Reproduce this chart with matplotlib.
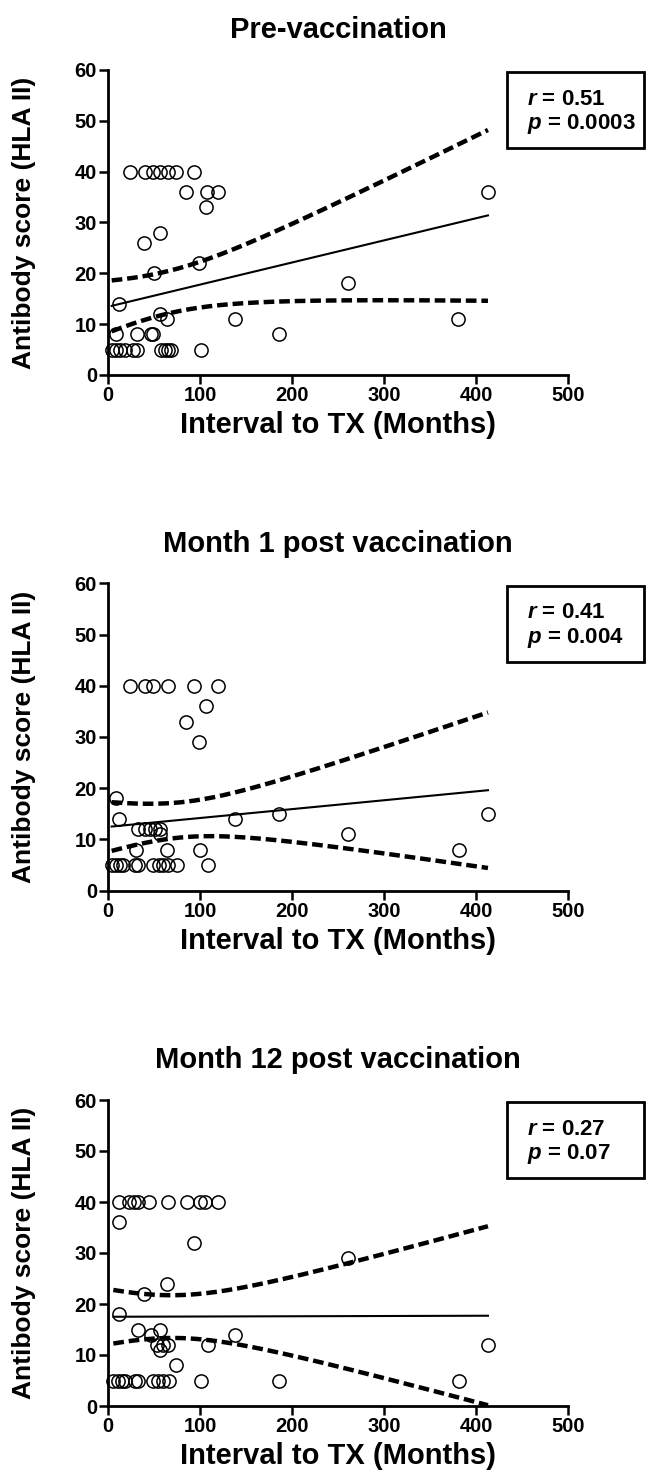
#!/usr/bin/env python3
"""
Antibody score (HLA II) vs interval to transplant, three time points.
Open circles = patients, solid = linear fit, dashed = 95% CI of the fit.
"""
import matplotlib
matplotlib.use("Agg")
import matplotlib.pyplot as plt
import numpy as np

plt.rcParams["font.family"] = ["Liberation Sans", "DejaVu Sans"]
plt.rcParams["font.weight"] = "bold"
plt.rcParams["mathtext.fontset"] = "custom"
plt.rcParams["mathtext.it"] = "Liberation Sans:italic:bold"
plt.rcParams["mathtext.rm"] = "Liberation Sans:bold"

# ---- data (months, score) ----
pre_x = [24, 40, 49, 56, 65.5, 74, 94,
         85, 108, 120, 106, 56.5, 39.5, 99, 50.5, 260.5, 12.3, 56.5,
         64, 138, 380, 8.7, 31, 46.4, 49.3, 186, 413,
         4, 8.7, 13, 18.5, 27.5, 32, 57.6, 62, 65.5, 68.5, 101]
pre_y = [40, 40, 40, 40, 40, 40, 40,
         36, 36, 36, 33, 28, 26, 22, 20, 18, 14, 12,
         11, 11, 11, 8, 8, 8, 8, 8, 36,
         5, 5, 5, 5, 5, 5, 5, 5, 5, 5, 5]

m1_x = [24, 40, 49.3, 65.6, 94, 120,
        106, 85, 99, 8.7, 12.3, 138, 186, 413, 260.5,
        381, 30, 64, 100, 33, 40, 45.7, 51, 56.5, 56.5,
        4, 8.7, 13, 16.6, 29.3, 32.2, 49.3, 55.8, 60, 65, 74.6, 108.3]
m1_y = [40, 40, 40, 40, 40, 40,
        36, 33, 29, 18, 14, 14, 15, 15, 11,
        8, 8, 8, 8, 12, 12, 12, 12, 12, 11,
        5, 5, 5, 5, 5, 5, 5, 5, 5, 5, 5, 5]

m12_x = [12, 22.8, 28, 33, 44.6, 65.6, 85.5, 100, 105.4, 120,
         12, 94, 260.5, 64, 39.5, 12.3,
         33, 46.7, 56.5, 53, 59.4, 65.6, 56.5, 74, 108.3, 138, 413,
         381, 5.8, 10.5, 14.9, 18.5, 29.3, 32.2, 48.6, 54.7, 60, 66.6, 100.8, 186]
m12_y = [40, 40, 40, 40, 40, 40, 40, 40, 40, 40,
         36, 32, 29, 24, 22, 18,
         15, 14, 15, 12, 12, 12, 11, 8, 12, 14, 12,
         5, 5, 5, 5, 5, 5, 5, 5, 5, 5, 5, 5, 5]

titles = ["Pre-vaccination", "Month 1 post vaccination", "Month 12 post vaccination"]
r_values = ["0.51", "0.41", "0.27"]
p_values = ["0.0003", "0.004", "0.07"]

# regression line as drawn (y at first and last x)
fit_start = [13.6, 12.5, 17.5]
fit_end = [31.4, 19.6, 17.7]
# 95% band as drawn: x of narrowest point, half-width there, half-width at last x
band_xc = [63.5, 78.2, 69.6]
band_hmin = [4.17, 3.44, 4.19]
band_hend = [16.8, 15.2, 17.55]


fig = plt.figure(figsize=(6.46, 14.84), dpi=100)
W, H = 646, 1484
# axes box in pixels: (left, top, right, bottom)
boxes = [(108, 70, 568, 375), (108, 583.5, 568, 890.5), (108, 1100, 568, 1406)]
series = [(pre_x, pre_y), (m1_x, m1_y), (m12_x, m12_y)]

for i, ((l, t, r, b), (xv, yv)) in enumerate(zip(boxes, series)):
    ax = fig.add_axes([l / W, 1 - b / H, (r - l) / W, (b - t) / H])
    ax.set_xlim(0, 500)
    ax.set_ylim(0, 60)
    for side in ("top", "right"):
        ax.spines[side].set_visible(False)
    for side in ("left", "bottom"):
        ax.spines[side].set_linewidth(2.0)
    ax.set_xticks([0, 100, 200, 300, 400, 500])
    ax.set_yticks([0, 10, 20, 30, 40, 50, 60])
    ax.tick_params(direction="out", length=6.5, width=1.8, pad=1.5,
                   labelsize=14.5)
    for lab in ax.get_xticklabels() + ax.get_yticklabels():
        lab.set_fontweight("bold")

    # fit line + band
    x0, x1 = min(xv), max(xv)
    xs = np.linspace(x0, x1, 200)
    yh = fit_start[i] + (fit_end[i] - fit_start[i]) * (xs - x0) / (x1 - x0)
    k = (band_hend[i] ** 2 - band_hmin[i] ** 2) / (x1 - band_xc[i]) ** 2
    half = np.sqrt(band_hmin[i] ** 2 + k * (xs - band_xc[i]) ** 2)
    ax.plot(xs, yh, color="black", lw=1.5, zorder=2)
    for band in (yh - half, yh + half):
        ax.plot(xs, band, color="black", lw=3.2, dashes=(2.4, 1.1), zorder=2)
    ax.plot(xv, yv, "o", ms=9.5, mfc="none", mec="black", mew=1.1,
            clip_on=False, zorder=3)

    ax.set_title(titles[i], fontsize=21, fontweight="bold", pad=23)
    ax.set_xlabel("Interval to TX (Months)", fontsize=21, fontweight="bold")
    ax.set_ylabel("Antibody score (HLA II)", fontsize=19, fontweight="bold")
    ax.xaxis.set_label_coords(0.5, -0.163)
    ax.xaxis.label.set_va("center")
    ax.yaxis.set_label_coords(-0.183, 0.5)
    ax.yaxis.label.set_va("center")

    box_h = 76 / (b - t)
    ax.add_patch(plt.Rectangle((0.867, 0.993 - box_h), 0.298, box_h,
                               transform=ax.transAxes, fill=False,
                               lw=2.0, ec="black", clip_on=False))
    ax.text(0.911, 0.993 - 27 / (b - t), f"$r$ = {r_values[i]}",
            transform=ax.transAxes, fontsize=16, fontweight="bold",
            va="center", ha="left")
    ax.text(0.911, 0.993 - 52 / (b - t), f"$p$ = {p_values[i]}",
            transform=ax.transAxes, fontsize=16, fontweight="bold",
            va="center", ha="left")

fig.savefig("out.png", dpi=100)
